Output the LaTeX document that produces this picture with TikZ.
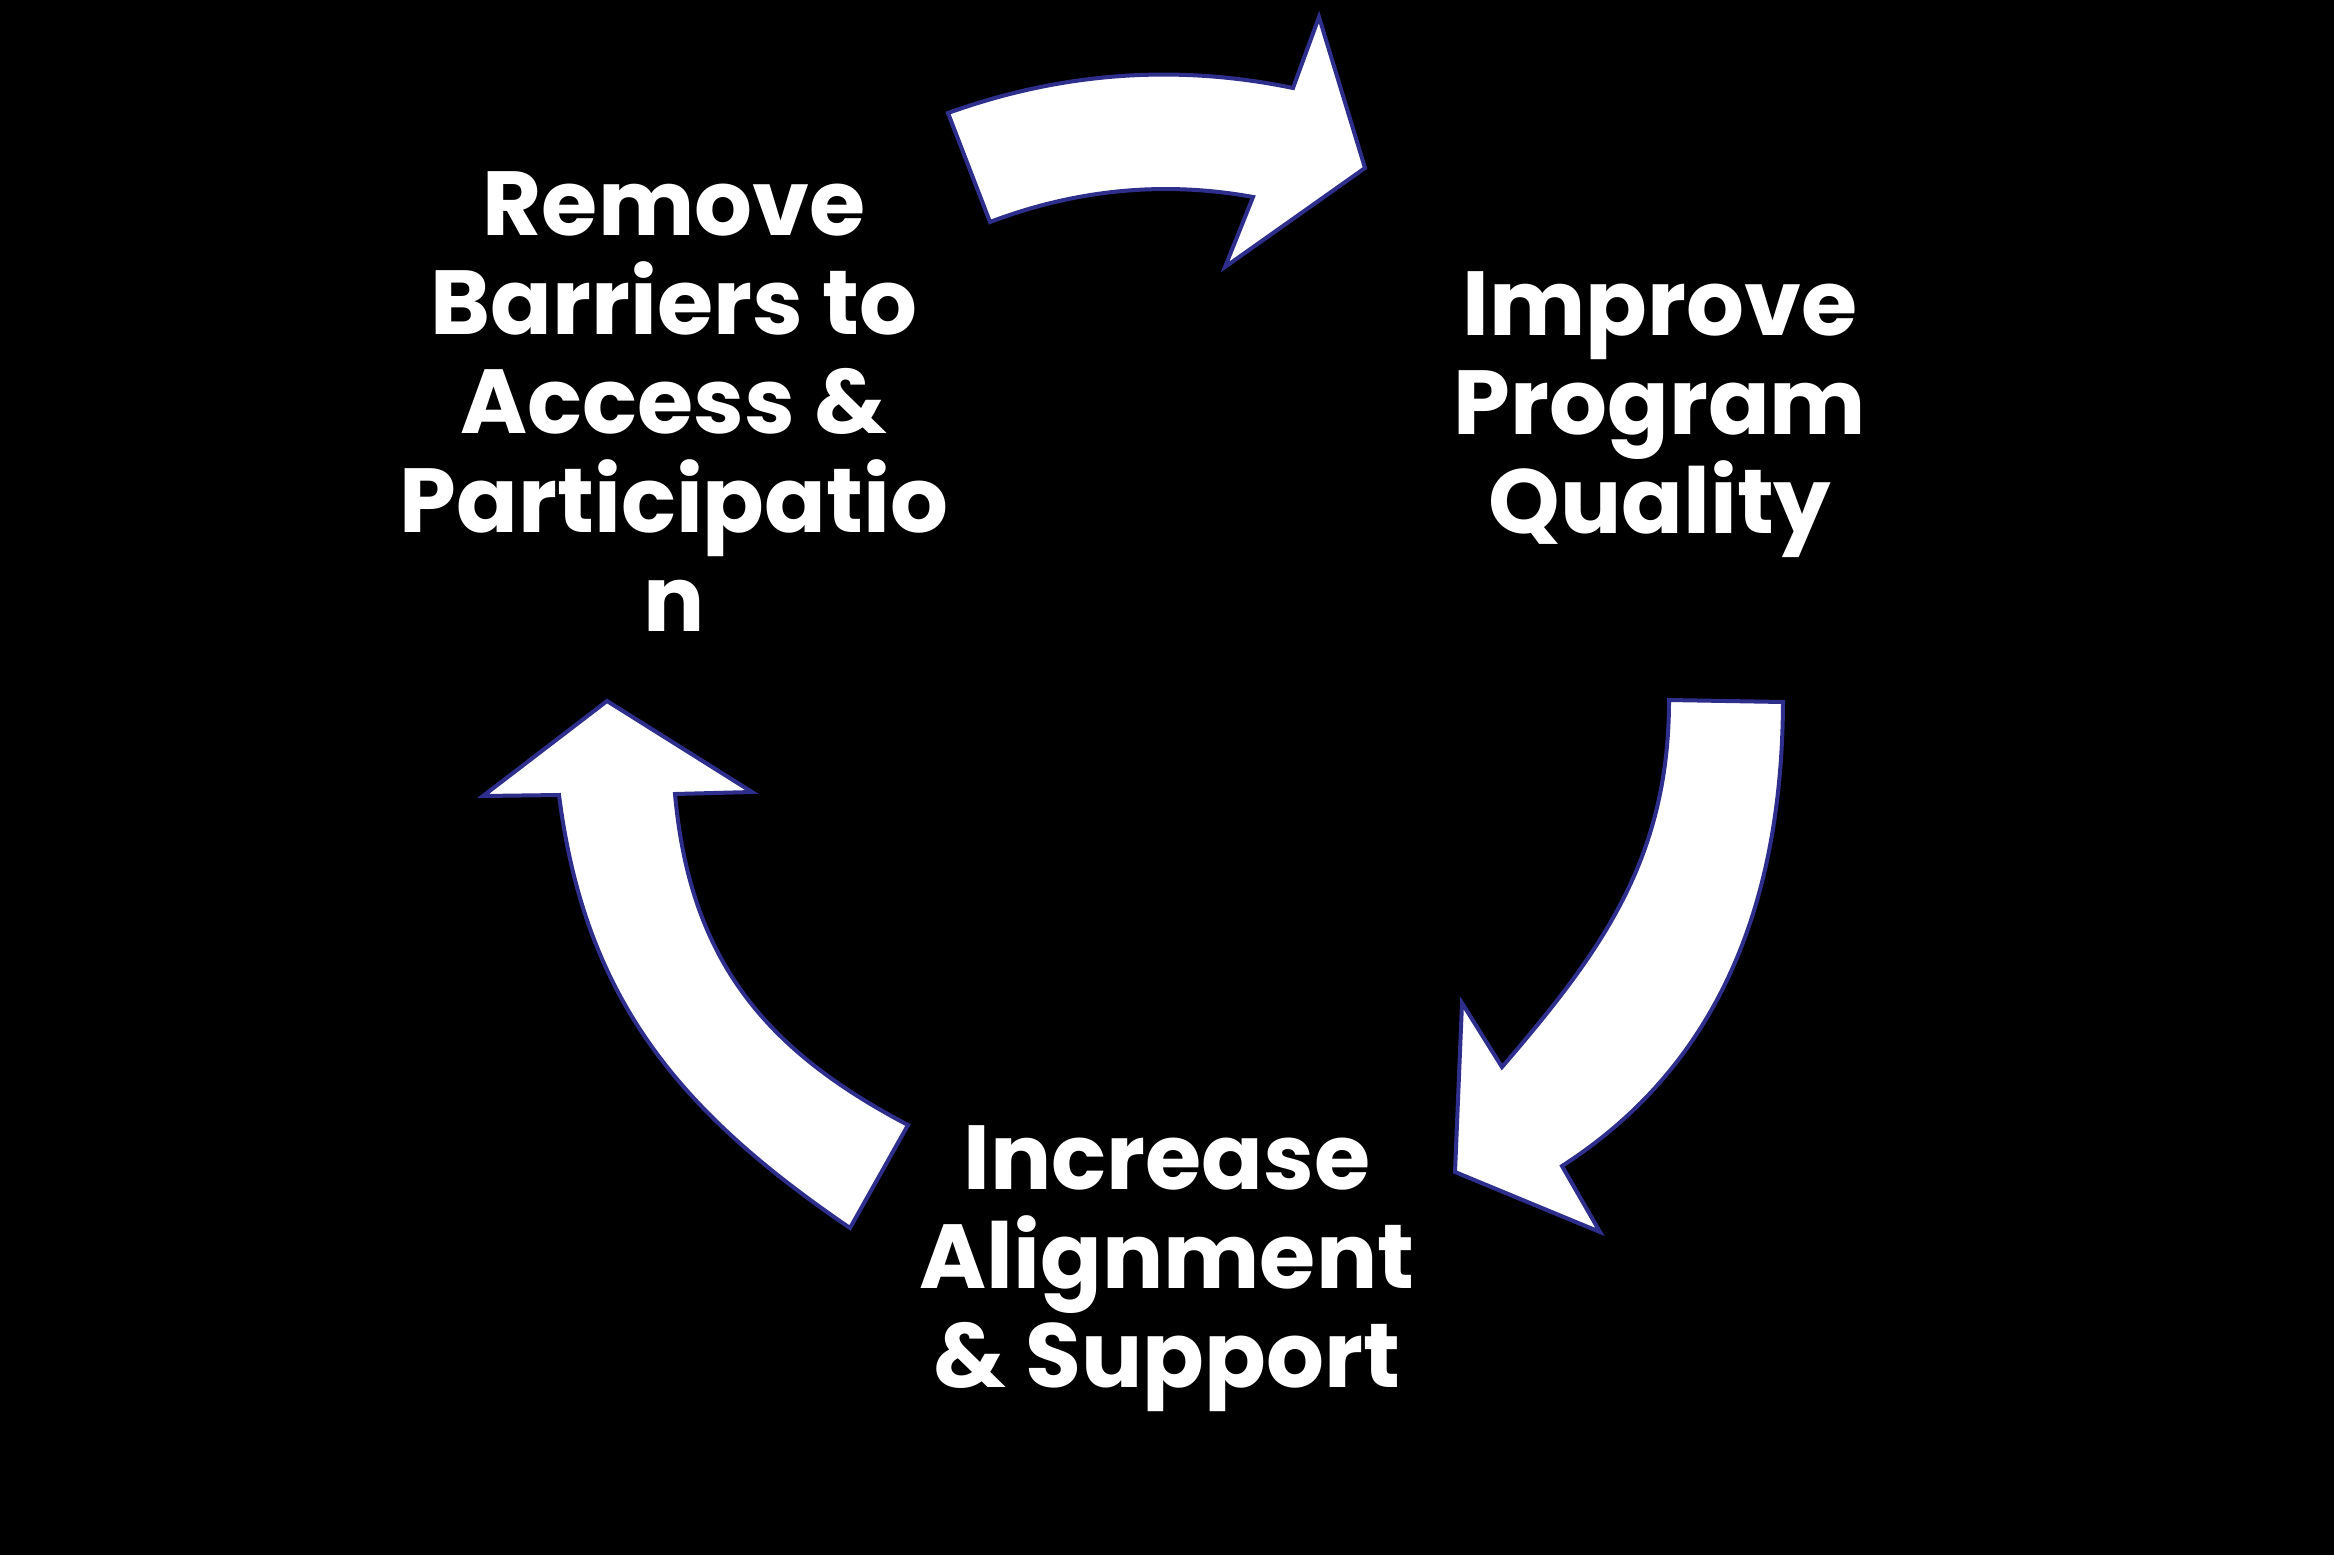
\documentclass[tikz,border=0pt]{standalone}
\usepackage{fontspec}
\setmainfont{Poppins}
\definecolor{edge}{RGB}{46,46,140}
\tikzset{
  cyclearrow/.style={fill=white, draw=edge, line width=4pt, line join=miter},
  label/.style={text=white, font=\bfseries\fontsize{91}{99}\selectfont, align=center, inner sep=0pt, anchor=base}
}
\begin{document}
\begin{tikzpicture}[x=1pt,y=-1pt]
\fill[black] (0,0) rectangle (2334,1555);
\useasboundingbox (0,0) rectangle (2334,1555);
% top arrow
\path[cyclearrow] (948,113) .. controls (1062,72) and (1177,64) .. (1293,88)
  -- (1319,17) -- (1365,168) -- (1225,267) -- (1253,197)
  .. controls (1165,181) and (1077,189) .. (990,222) -- cycle;
% right arrow
\path[cyclearrow] (1669,700) -- (1783,702) .. controls (1782,912) and (1713,1069) .. (1562,1166)
  -- (1600,1232) -- (1455,1172) -- (1462,1003) -- (1502,1067)
  .. controls (1600,953) and (1669,860) .. (1669,700) -- cycle;
% left arrow
\path[cyclearrow] (850,1228) -- (908,1125) .. controls (765,1050) and (690,960) .. (675,794)
  -- (752,792) -- (607,701) -- (483,796) -- (559,795)
  .. controls (585,1000) and (680,1112) .. (850,1228) -- cycle;
\node[label] (remove) at (674,631) {Remove\\Barriers to\\Access \&\\Participatio\\n};
\node[label] (improve) at (1660,533) {Improve\\Program\\Quality};
\node[label] (increase) at (1167,1387) {Increase\\Alignment\\\& Support};
\end{tikzpicture}
\end{document}
